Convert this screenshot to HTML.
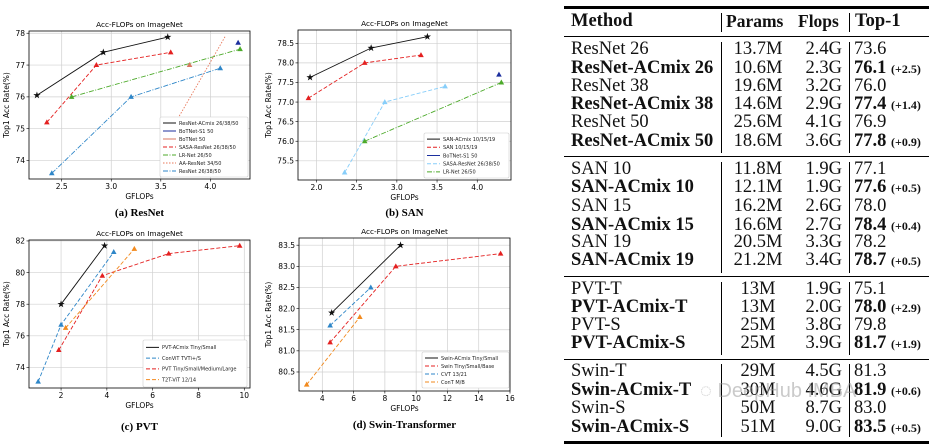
<!DOCTYPE html>
<html><head><meta charset="utf-8">
<style>
html,body{margin:0;padding:0;background:#fff;}
body{width:935px;height:446px;position:relative;overflow:hidden;}
svg text{font-family:"DejaVu Sans","Liberation Sans",sans-serif;}
.tbl{position:absolute;font-family:"Liberation Serif",serif;font-size:18.5px;color:#111;}
.r{position:absolute;white-space:nowrap;line-height:18px;}
.b{font-weight:bold;}
.s{font-size:12px;font-weight:bold;}
.hl{position:absolute;background:#000;left:564px;width:365px;}
.vl{position:absolute;background:#000;width:1px;}
</style></head><body>
<svg id="charts" width="540" height="446" style="position:absolute;left:0;top:0"></svg>

<div class="tbl" id="tbl"></div>
<div style="position:absolute;left:700px;top:380px;font-family:'Liberation Sans',sans-serif;font-size:20px;color:rgba(150,150,150,0.5);white-space:nowrap;">◌ DeepHub IMBA</div>

<script>
// ---------- chart data ----------
// (a) ResNet
const aAcmixX=[2.25,2.92,3.57], aAcmixY=[76.05,77.4,77.88];
const aBot51X=[4.28], aBot51Y=[77.7];
const aBot50X=[3.79], aBot50Y=[77.0];
const aSasaX=[2.35,2.85,3.6], aSasaY=[75.2,77.0,77.4];
const aLrX=[2.6,4.3], aLrY=[76.0,77.5];
const aAaX=[3.52,4.15], aAaY=[74.5,77.9];
const aResX=[2.4,3.2,4.1], aResY=[73.6,76.0,76.9];
const aXTicks=[2.5,3.0,3.5,4.0], aYTicks=[74,75,76,77,78];
const aXLabels=["2.5","3.0","3.5","4.0"], aYLabels=["74","75","76","77","78"];
// (b) SAN
const bAcmixX=[1.92,2.68,3.38], bAcmixY=[77.63,78.38,78.67];
const bSanX=[1.9,2.6,3.3], bSanY=[77.1,78.0,78.2];
const bBotX=[4.27], bBotY=[77.7];
const bSasaX=[2.35,2.85,3.6], bSasaY=[75.2,77.0,77.4];
const bLrX=[2.6,4.3], bLrY=[76.0,77.5];
const bXTicks=[2.0,2.5,3.0,3.5,4.0], bYTicks=[75.5,76.0,76.5,77.0,77.5,78.0,78.5];
const bXLabels=["2.0","2.5","3.0","3.5","4.0"], bYLabels=["75.5","76.0","76.5","77.0","77.5","78.0","78.5"];
// (c) PVT
const cAcmixX=[2.0,3.9], cAcmixY=[78.0,81.7];
const cConvitX=[1.0,2.0,4.3], cConvitY=[73.1,76.7,81.3];
const cPvtX=[1.9,3.8,6.7,9.8], cPvtY=[75.1,79.8,81.2,81.7];
const cT2tX=[2.2,5.2], cT2tY=[76.5,81.5];
const cXTicks=[2,4,6,8,10], cYTicks=[74,76,78,80,82];
const cXLabels=["2","4","6","8","10"], cYLabels=["74","76","78","80","82"];
// (d) Swin
const dAcmixX=[4.6,9.0], dAcmixY=[81.9,83.5];
const dSwinX=[4.5,8.7,15.4], dSwinY=[81.2,83.0,83.3];
const dCvtX=[4.5,7.1], dCvtY=[81.6,82.5];
const dContX=[3.0,6.4], dContY=[80.2,81.8];
const dXTicks=[4,6,8,10,12,14,16], dYTicks=[80.5,81.0,81.5,82.0,82.5,83.0,83.5];
const dXLabels=["4","6","8","10","12","14","16"], dYLabels=["80.5","81.0","81.5","82.0","82.5","83.0","83.5"];

const NS="http://www.w3.org/2000/svg";
const svg=document.getElementById('charts');
function mk(tag,attrs,parent){const e=document.createElementNS(NS,tag);for(const k in attrs)e.setAttribute(k,attrs[k]);(parent||svg).appendChild(e);return e;}

function chart(cfg){
  const g=mk('g',{});
  
  
  const sx=v=>cfg.x0+(v-cfg.xmin)/(cfg.xmax-cfg.xmin)*(cfg.x1-cfg.x0);
  const sy=v=>cfg.y1-(v-cfg.ymin)/(cfg.ymax-cfg.ymin)*(cfg.y1-cfg.y0);
  cfg.xt.forEach((t,i)=>{
    mk('line',{x1:sx(t),x2:sx(t),y1:cfg.y0,y2:cfg.y1,stroke:'#d0d0d0','stroke-width':0.7},g);
    mk('line',{x1:sx(t),x2:sx(t),y1:cfg.y1,y2:cfg.y1+2.5,stroke:'#000','stroke-width':0.6},g);
    const tx=mk('text',{x:sx(t),y:cfg.y1+10,'font-size':7.5,'text-anchor':'middle'},g);tx.textContent=cfg.xl[i];
    
    
  });
  cfg.yt.forEach((t,i)=>{
    mk('line',{x1:cfg.x0,x2:cfg.x1,y1:sy(t),y2:sy(t),stroke:'#d0d0d0','stroke-width':0.7},g);
    mk('line',{x1:cfg.x0-2.5,x2:cfg.x0,y1:sy(t),y2:sy(t),stroke:'#000','stroke-width':0.6},g);
    const tx=mk('text',{x:cfg.x0-4,y:sy(t)+2.7,'font-size':7.5,'text-anchor':'end'},g);tx.textContent=cfg.yl[i];
    
    
  });
  mk('rect',{x:cfg.x0,y:cfg.y0,width:cfg.x1-cfg.x0,height:cfg.y1-cfg.y0,fill:'none',stroke:'#000','stroke-width':0.8},g);
  let t=mk('text',{x:(cfg.x0+cfg.x1)/2,y:cfg.y0-4,'font-size':7.3,'text-anchor':'middle'},g);t.textContent='Acc-FLOPs on ImageNet';
  
  t=mk('text',{x:(cfg.x0+cfg.x1)/2,y:cfg.y1+20,'font-size':7.5,'text-anchor':'middle'},g);t.textContent='GFLOPs';
  
  const yc=(cfg.y0+cfg.y1)/2;
  t=mk('text',{x:cfg.yx,y:yc,'font-size':7.5,'text-anchor':'middle',transform:`rotate(-90 ${cfg.yx} ${yc})`},g);t.textContent='Top1 Acc Rate(%)';
  
  t=mk('text',{x:(cfg.x0+cfg.x1)/2,y:cfg.capY,'font-size':11,'font-weight':'bold','text-anchor':'middle'},g);t.textContent=cfg.caption;
  t.style.fontFamily='"Liberation Serif",serif';
  
  cfg.series.forEach(s=>{
    const sg=mk('g',{},g);
    
    
    if(s.xs.length>1){
      const pts=s.xs.map((x,i)=>sx(x)+','+sy(s.ys[i])).join(' ');
      mk('polyline',{points:pts,fill:'none',stroke:s.color,'stroke-width':0.9,'stroke-dasharray':s.dash||'none'},sg);
    }
    if(s.marker) s.xs.forEach((x,i)=>{
      const cx=sx(x),cy=sy(s.ys[i]);let m;
      if(s.marker==='star'){
        let p=[];for(let k=0;k<10;k++){const r=k%2?1.5:3.8;const a=-Math.PI/2+k*Math.PI/5;p.push((cx+r*Math.cos(a)).toFixed(2)+','+(cy+r*Math.sin(a)).toFixed(2));}
        m=mk('polygon',{points:p.join(' '),fill:s.color},sg);
      } else {
        m=mk('polygon',{points:`${cx},${cy-3} ${cx-2.8},${cy+2} ${cx+2.8},${cy+2}`,fill:s.color},sg);
      }
      
      
    });
  });
  const L=cfg.legend;
  const lg=mk('g',{},g);
  
  
  mk('rect',{x:L.x,y:L.y,width:L.w,height:L.h,fill:'#fff',stroke:'#ccc','stroke-width':0.6,rx:1.5},lg);
  const step=(L.h-4)/cfg.series.filter(s=>s.label).length;
  let k=0;
  cfg.series.forEach(s=>{ if(!s.label)return;
    const yy=L.y+2+step*(k+0.5);k++;
    mk('line',{x1:L.x+3,x2:L.x+16,y1:yy,y2:yy,stroke:s.color,'stroke-width':1,'stroke-dasharray':s.dash||'none'},lg);
    const tx=mk('text',{x:L.x+19,y:yy+1.8,'font-size':5,fill:'#222'},lg);tx.textContent=s.label;
    
    
  });
}

const BLK='#111',NAVY='#1c2f9e',SAL='#d97760',RED='#e42020',GRN='#4caa2a',BLU='#2e86c8',LBL='#87cefa',ORG='#f28a1e';
chart({name:'chart-resnet',x0:29,x1:250,y0:31,y1:179,xmin:2.17,xmax:4.40,ymin:73.42,ymax:78.07,yx:9,capY:216,caption:'(a) ResNet',
 xt:aXTicks,xl:aXLabels,yt:aYTicks,yl:aYLabels,legend:{x:160,y:117,w:88,h:60},
 series:[
  {key:'aa-resnet',xs:aAaX,ys:aAaY,color:'#e8785a',dash:'1.5,1.5'},
  {key:'resnet-acmix',xs:aAcmixX,ys:aAcmixY,color:BLK,marker:'star',label:'ResNet-ACmix 26/38/50'},
  {key:'botnet-s1',xs:aBot51X,ys:aBot51Y,color:NAVY,marker:'tri',label:'BoTNet-S1 50'},
  {key:'botnet-50',xs:aBot50X,ys:aBot50Y,color:SAL,marker:'tri',label:'BoTNet 50'},
  {key:'sasa',xs:aSasaX,ys:aSasaY,color:RED,dash:'4,2',marker:'tri',label:'SASA-ResNet 26/38/50'},
  {key:'lr-net',xs:aLrX,ys:aLrY,color:GRN,dash:'5,1.5,1,1.5',marker:'tri',label:'LR-Net 26/50'},
  {key:'aa-legend',xs:[],ys:[],color:'#e8785a',dash:'1.5,1.5',label:'AA-ResNet 34/50'},
  {key:'resnet',xs:aResX,ys:aResY,color:BLU,dash:'5,1.5,1,1.5',marker:'tri',label:'ResNet 26/38/50'}
 ]});
chart({name:'chart-san',x0:298,x1:511,y0:30,y1:180,xmin:1.77,xmax:4.42,ymin:75.01,ymax:78.84,yx:271,capY:216,caption:'(b) SAN',
 xt:bXTicks,xl:bXLabels,yt:bYTicks,yl:bYLabels,legend:{x:424,y:133,w:85,h:45},
 series:[
  {key:'san-acmix',xs:bAcmixX,ys:bAcmixY,color:BLK,marker:'star',label:'SAN-ACmix 10/15/19'},
  {key:'san',xs:bSanX,ys:bSanY,color:RED,dash:'4,2',marker:'tri',label:'SAN 10/15/19'},
  {key:'botnet',xs:bBotX,ys:bBotY,color:NAVY,marker:'tri',label:'BoTNet-S1 50'},
  {key:'sasa',xs:bSasaX,ys:bSasaY,color:LBL,dash:'4,2',marker:'tri',label:'SASA-ResNet 26/38/50'},
  {key:'lr-net',xs:bLrX,ys:bLrY,color:GRN,dash:'5,1.5,1,1.5',marker:'tri',label:'LR-Net 26/50'}
 ]});
chart({name:'chart-pvt',x0:29,x1:250,y0:240,y1:388,xmin:0.6,xmax:10.25,ymin:72.7,ymax:82.06,yx:9,capY:430,caption:'(c) PVT',
 xt:cXTicks,xl:cXLabels,yt:cYTicks,yl:cYLabels,legend:{x:143,y:340,w:104,h:47},
 series:[
  {key:'pvt-acmix',xs:cAcmixX,ys:cAcmixY,color:BLK,marker:'star',label:'PVT-ACmix Tiny/Small'},
  {key:'convit',xs:cConvitX,ys:cConvitY,color:BLU,dash:'4,2',marker:'tri',label:'ConViT TVTi+/S'},
  {key:'pvt',xs:cPvtX,ys:cPvtY,color:RED,dash:'4,2',marker:'tri',label:'PVT Tiny/Small/Medium/Large'},
  {key:'t2t',xs:cT2tX,ys:cT2tY,color:ORG,dash:'4,2',marker:'tri',label:'T2T-ViT 12/14'}
 ]});
chart({name:'chart-swin',x0:299,x1:510,y0:238,y1:391,xmin:2.51,xmax:16,ymin:80.05,ymax:83.67,yx:271,capY:428,caption:'(d) Swin-Transformer',
 xt:dXTicks,xl:dXLabels,yt:dYTicks,yl:dYLabels,legend:{x:422,y:352,w:87,h:36},
 series:[
  {key:'swin-acmix',xs:dAcmixX,ys:dAcmixY,color:BLK,marker:'star',label:'Swin-ACmix Tiny/Small'},
  {key:'swin',xs:dSwinX,ys:dSwinY,color:RED,dash:'4,2',marker:'tri',label:'Swin Tiny/Small/Base'},
  {key:'cvt',xs:dCvtX,ys:dCvtY,color:BLU,dash:'4,2',marker:'tri',label:'CVT 13/21'},
  {key:'cont',xs:dContX,ys:dContY,color:ORG,dash:'4,2',marker:'tri',label:'ConT M/B'}
 ]});

// ---------- table ----------
const tblGroups=[
 {y:[49.3,68,86,104.5,122.5,141],rows:[
  ['ResNet 26','13.7M','2.4G','73.6','',0],['ResNet-ACmix 26','10.6M','2.3G','76.1','(+2.5)',1],
  ['ResNet 38','19.6M','3.2G','76.0','',0],['ResNet-ACmix 38','14.6M','2.9G','77.4','(+1.4)',1],
  ['ResNet 50','25.6M','4.1G','76.9','',0],['ResNet-ACmix 50','18.6M','3.6G','77.8','(+0.9)',1]],top:42,bot:153},
 {y:[169.3,187.6,206,225,242.7,260.7],rows:[
  ['SAN 10','11.8M','1.9G','77.1','',0],['SAN-ACmix 10','12.1M','1.9G','77.6','(+0.5)',1],
  ['SAN 15','16.2M','2.6G','78.0','',0],['SAN-ACmix 15','16.6M','2.7G','78.4','(+0.4)',1],
  ['SAN 19','20.5M','3.3G','78.2','',0],['SAN-ACmix 19','21.2M','3.4G','78.7','(+0.5)',1]],top:162,bot:273},
 {y:[289.3,307.3,325.3,343.3],rows:[
  ['PVT-T','13M','1.9G','75.1','',0],['PVT-ACmix-T','13M','2.0G','78.0','(+2.9)',1],
  ['PVT-S','25M','3.8G','79.8','',0],['PVT-ACmix-S','25M','3.9G','81.7','(+1.9)',1]],top:282,bot:355},
 {y:[371.7,390.3,408.7,427.3],rows:[
  ['Swin-T','29M','4.5G','81.3','',0],['Swin-ACmix-T','30M','4.6G','81.9','(+0.6)',1],
  ['Swin-S','50M','8.7G','83.0','',0],['Swin-ACmix-S','51M','9.0G','83.5','(+0.5)',1]],top:364,bot:437}
];
let html='';
html+='<div class="hl" style="top:6px;height:2.5px"></div>';
html+='<div class="r b" style="left:571px;top:12px">Method</div>';
html+='<div class="r b" style="left:726px;top:12px;font-size:17.5px">Params</div>';
html+='<div class="r b" style="left:798px;top:12px;font-size:17.5px">Flops</div>';
html+='<div class="r b" style="left:855px;top:12px">Top-1</div>';
html+='<div class="vl" style="left:721px;top:13px;height:19px"></div><div class="vl" style="left:849px;top:13px;height:19px"></div>';
html+='<div class="hl" style="top:35.5px;height:1px"></div>';
tblGroups.forEach((g,gi)=>{
  g.rows.forEach((r,i)=>{
    const t=g.y[i]-9.5, b=r[5]?' b':'';
    html+=`<div class="r${b}" style="left:571px;top:${t}px">${r[0]}</div>`;
    html+=`<div class="r" style="left:730px;width:56px;text-align:center;top:${t}px">${r[1]}</div>`;
    html+=`<div class="r" style="left:790px;width:52px;text-align:right;top:${t}px">${r[2]}</div>`;
    html+=`<div class="r${b}" style="left:854px;top:${t}px">${r[3]}${r[4]?' <span class="s">'+r[4]+'</span>':''}</div>`;
  });
  html+=`<div class="vl" style="left:721px;top:${g.top}px;height:${g.bot-g.top}px"></div><div class="vl" style="left:849px;top:${g.top}px;height:${g.bot-g.top}px"></div>`;
  if(gi<3) html+=`<div class="hl" style="top:${[155.5,276,358.7][gi]}px;height:1.2px"></div>`;
});
html+='<div class="hl" style="top:441px;height:2.5px"></div>';
document.getElementById('tbl').innerHTML=html;
</script>
</body></html>
